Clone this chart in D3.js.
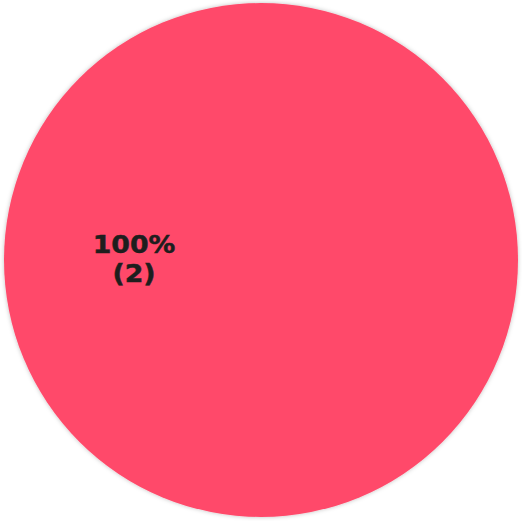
<!DOCTYPE html>
<html lang="en">
<head>
  <meta charset="UTF-8">
  <title>Pie</title>
  <script src="https://d3js.org/d3.v7.min.js"></script>
  <style>
    body { margin: 0; background: #fff; }
  </style>
</head>
<body>
  <div id="chart"></div>
  <script>
    // chart data
    const categories = ['A'];
    const values = [2];
    const colors = ['#ff4a6b'];

    const width = 522, height = 521;
    const cx = 261, cy = 260, radius = 257;

    const svg = d3.select('#chart')
      .append('svg')
      .attr('width', width)
      .attr('height', height);

    const defs = svg.append('defs');
    const f = defs.append('filter').attr('id', 'shadow')
      .attr('x', '-10%').attr('y', '-10%').attr('width', '120%').attr('height', '120%');
    f.append('feDropShadow')
      .attr('dx', 0).attr('dy', 0).attr('stdDeviation', 2)
      .attr('flood-color', '#000').attr('flood-opacity', 0.25);

    const total = d3.sum(values);
    const pie = d3.pie().sort(null)
      .startAngle(-1.5 * Math.PI).endAngle(0.5 * Math.PI);
    const arcs = pie(values);
    const arc = d3.arc().innerRadius(0).outerRadius(radius);

    const g = svg.append('g').attr('transform', `translate(${cx},${cy})`);

    g.selectAll('path')
      .data(arcs)
      .enter()
      .append('path')
      .attr('d', arc)
      .attr('fill', (d, i) => colors[i])
      .attr('filter', 'url(#shadow)');

    // labels: percentage + count
    const labels = g.selectAll('text.lbl')
      .data(arcs)
      .enter()
      .append('text')
      .attr('class', 'lbl')
      .attr('transform', d => {
        const a = (d.startAngle + d.endAngle) / 2;
        const r = radius / 2;
        return `translate(${Math.sin(a) * r + 1.5},${-Math.cos(a) * r}) scale(1.07,1)`;
      })
      .attr('text-anchor', 'middle')
      .attr('font-family', 'DejaVu Sans, Verdana, sans-serif')
      .attr('font-weight', 'bold')
      .attr('font-size', 25)
      .attr('fill', '#1e1e1e')
      .attr('stroke', '#1e1e1e')
      .attr('stroke-width', 0.5);

    labels.append('tspan')
      .attr('x', 0).attr('y', -7)
      .text(d => Math.round(d.value / total * 100) + '%');
    labels.append('tspan')
      .attr('x', 0).attr('y', 22)
      .text(d => '(' + d.value + ')');
  </script>
</body>
</html>
